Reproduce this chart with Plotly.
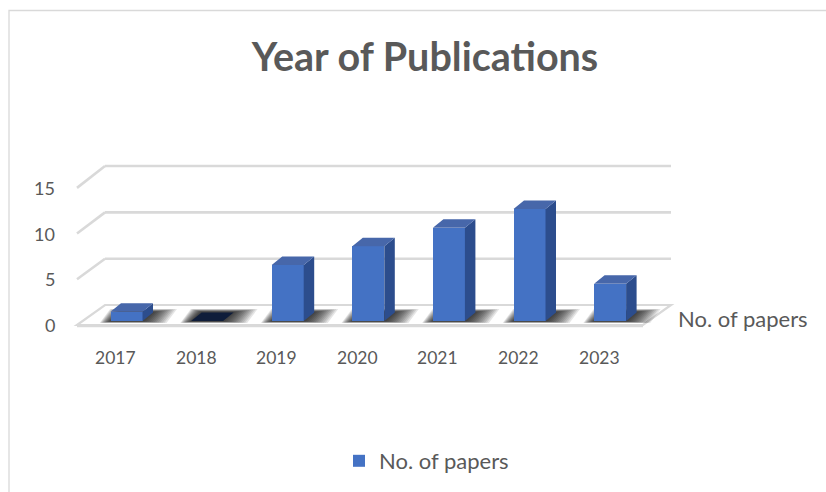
import plotly.graph_objects as go

# ---- data -------------------------------------------------------------
years = ["2017", "2018", "2019", "2020", "2021", "2022", "2023"]
papers = [1, 0, 6, 8, 10, 12, 4]
value_ticks = [0, 5, 10, 15]
series_name = "No. of papers"
chart_title = "Year of Publications"

# ---- page / projection set-up ----------------------------------------
W, H = 826, 492
CAT_PX = 80.6          # pixels between neighbouring categories
VAL_PX = 9.33          # pixels per paper on the bar front plane
ORIGIN_PX = (126.5, 321.0)   # pixel spot of category 0, value 0

def dx(p):
    """horizontal pixel distance -> x data units"""
    return p / CAT_PX

def dy(p):
    """upward pixel distance -> y data units"""
    return p / VAL_PX

x_range = [-ORIGIN_PX[0] / CAT_PX, (W - ORIGIN_PX[0]) / CAT_PX]
y_range = [-(H - ORIGIN_PX[1]) / VAL_PX, ORIGIN_PX[1] / VAL_PX]

# oblique depth of the bars and of the floor
BAR_HALF = dx(16)
BAR_DX, BAR_DY = dx(10.5), dy(8.5)
FLOOR_X0, FLOOR_X1 = dx(-49.5), dx(516.5)   # front edge ends
FLOOR_Y = dy(-4)
DEPTH_DX, DEPTH_DY = dx(28), dy(20)
FRONT_SCALE, BACK_SCALE = 0.98, 0.993

TEXT = "#595959"
GRID = "#D9D9D9"
FONT = "Lato"

xs = list(range(len(years)))

shapes = []

# chart-area outline
shapes.append(dict(type="rect", xref="paper", yref="paper",
                   x0=9 / W, x1=1.05, y0=-0.05, y1=1 - 10.5 / H,
                   line=dict(color=GRID, width=1.3), fillcolor="rgba(0,0,0,0)",
                   layer="below"))

# back-wall gridlines and left-wall diagonals
for k in value_ticks:
    yb = FLOOR_Y + DEPTH_DY + k * BACK_SCALE
    yf = FLOOR_Y + k * FRONT_SCALE
    if k > 0:
        shapes.append(dict(type="line", xref="x", yref="y",
                           x0=FLOOR_X0 + DEPTH_DX, x1=FLOOR_X1 + DEPTH_DX,
                           y0=yb, y1=yb, line=dict(color=GRID, width=2.6),
                           layer="below"))
        shapes.append(dict(type="line", xref="x", yref="y",
                           x0=FLOOR_X0, x1=FLOOR_X0 + DEPTH_DX,
                           y0=yf, y1=yb, line=dict(color=GRID, width=2.6),
                           layer="below"))

# floor plate
floor_path = (f"M{FLOOR_X0},{FLOOR_Y} L{FLOOR_X1},{FLOOR_Y} "
              f"L{FLOOR_X1 + DEPTH_DX},{FLOOR_Y + DEPTH_DY} "
              f"L{FLOOR_X0 + DEPTH_DX},{FLOOR_Y + DEPTH_DY} Z")
shapes.append(dict(type="path", xref="x", yref="y", path=floor_path,
                   fillcolor="white", line=dict(color=GRID, width=2.2),
                   layer="below"))
shapes.append(dict(type="line", xref="x", yref="y",
                   x0=FLOOR_X0, x1=FLOOR_X1, y0=FLOOR_Y - dy(1), y1=FLOOR_Y - dy(1),
                   line=dict(color=GRID, width=2.5), layer="below"))

# soft shadows cast on the floor round each bar foot
for x, v in zip(xs, papers):
    for e in range(24, 0, -2):
        l = x - BAR_HALF - dx(e * 0.45)
        r = x + BAR_HALF + dx(e)
        y0 = -dy(0.5 + e * 0.06)
        y1 = BAR_DY + dy(0.5 + e * 0.12)
        p = (f"M{l},{y0} L{r},{y0} L{r + BAR_DX},{y1} "
             f"L{l + BAR_DX},{y1} Z")
        shapes.append(dict(type="path", xref="x", yref="y", path=p,
                           fillcolor="rgba(0,0,0,0.1)", line=dict(width=0),
                           layer="below"))

fig = go.Figure()

# front faces
fig.add_trace(go.Bar(x=xs, y=papers, width=2 * BAR_HALF, name=series_name,
                     marker=dict(color="#4472C4", line=dict(width=0)),
                     showlegend=True, hoverinfo="skip"))

# side faces
sx, sy = [], []
for x, v in zip(xs, papers):
    if v <= 0:
        continue
    r = x + BAR_HALF
    sx += [r, r + BAR_DX, r + BAR_DX, r, r, None]
    sy += [0, BAR_DY, v + BAR_DY, v, 0, None]
fig.add_trace(go.Scatter(x=sx, y=sy, fill="toself", mode="lines",
                         fillcolor="#2C4D8D", line=dict(width=0),
                         showlegend=False, hoverinfo="skip"))

# top faces (a zero-height bar shows only its dark lid)
for shade, pick in [("#4767AA", lambda v: v > 0), ("#0F1D3A", lambda v: v == 0)]:
    tx, ty = [], []
    for x, v in zip(xs, papers):
        if not pick(v):
            continue
        l, r = x - BAR_HALF, x + BAR_HALF
        tx += [l, r, r + BAR_DX, l + BAR_DX, l, None]
        ty += [v, v, v + BAR_DY, v + BAR_DY, v, None]
    fig.add_trace(go.Scatter(x=tx, y=ty, fill="toself", mode="lines",
                             fillcolor=shade, line=dict(width=0),
                             showlegend=False, hoverinfo="skip"))

annotations = []
# value axis labels on the front edge
for k in value_ticks:
    annotations.append(dict(x=dx(57 - ORIGIN_PX[0]), y=FLOOR_Y + k * FRONT_SCALE,
                            xref="x", yref="y", text=str(k), showarrow=False,
                            xanchor="right", yanchor="middle",
                            font=dict(family=FONT, size=18, color=TEXT)))
# category labels
for x, yr in zip(xs, years):
    annotations.append(dict(x=x - dx(11), y=dy(-36), xref="x", yref="y",
                            text=yr, showarrow=False, xanchor="center",
                            yanchor="middle",
                            font=dict(family=FONT, size=17.5, color=TEXT)))
# series (depth) axis label
annotations.append(dict(x=FLOOR_X1 + DEPTH_DX + dx(5), y=dy(3), xref="x", yref="y",
                        text=series_name, showarrow=False, xanchor="left",
                        yanchor="middle",
                        font=dict(family=FONT, size=22, color=TEXT)))

fig.update_layout(
    width=W, height=H,
    margin=dict(l=0, r=0, t=0, b=0),
    paper_bgcolor="white", plot_bgcolor="white",
    title=dict(text=f"<b>{chart_title}</b>", x=425 / W, y=1 - 57 / H,
               xanchor="center", yanchor="middle", xref="paper", yref="paper",
               font=dict(family=FONT, size=39.5, color=TEXT)),
    xaxis=dict(range=x_range, visible=False, fixedrange=True),
    yaxis=dict(range=y_range, visible=False, fixedrange=True),
    shapes=shapes,
    annotations=annotations,
    showlegend=True,
    legend=dict(orientation="h", x=339 / W, y=1 - 440 / H,
                xanchor="left", yanchor="top", bgcolor="rgba(0,0,0,0)",
                font=dict(family=FONT, size=22, color=TEXT)),
    bargap=0,
)

fig.write_html("out.html")
